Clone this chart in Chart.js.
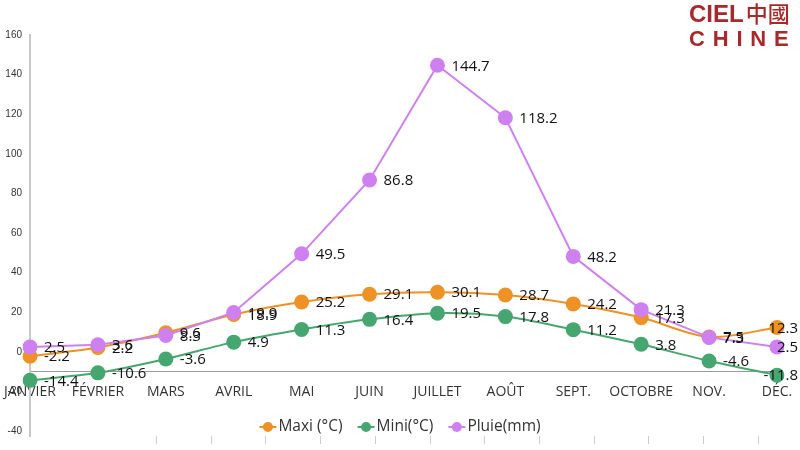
<!DOCTYPE html>
<html lang="fr">
<head>
<meta charset="utf-8">
<title>Climat - Ciel Chine</title>
<script src="https://cdn.jsdelivr.net/npm/chart.js@4.4.1/dist/chart.umd.min.js"></script>
<style>
  body { margin: 0; background: #fff; }
  #wrap { position: relative; width: 800px; height: 450px; }
  #logo { position: absolute; left: 689px; top: 1px; color: #a8282b; font-family: "Liberation Sans", Arial, sans-serif; font-weight: bold; line-height: 1; }
  #logo .l1 { font-size: 24px; white-space: nowrap; }
  #logo .l1 span { font-family: "Noto Sans CJK TC", sans-serif; font-size: 22px; font-weight: 500; margin-left: 2px; }
  #logo .l2 { font-size: 22px; letter-spacing: 7.8px; margin-top: 2px; }
</style>
</head>
<body>
<div id="wrap">
  <canvas id="climateChart" width="800" height="450"></canvas>
  <div id="logo"><div class="l1">CIEL<span>中國</span></div><div class="l2">CHINE</div></div>
</div>
<script>
// Data
const months = ['JANVIER', 'FÉVRIER', 'MARS', 'AVRIL', 'MAI', 'JUIN', 'JUILLET', 'AOÛT', 'SEPT.', 'OCTOBRE', 'NOV.', 'DÉC.'];
const maxiTemp = [-2.2, 2.2, 9.6, 18.9, 25.2, 29.1, 30.1, 28.7, 24.2, 17.3, 7.5, 12.3];
const miniTemp = [-14.4, -10.6, -3.6, 4.9, 11.3, 16.4, 19.5, 17.8, 11.2, 3.8, -4.6, -11.8];
const pluie = [2.5, 3.6, 8.3, 19.9, 49.5, 86.8, 144.7, 118.2, 48.2, 21.3, 7.3, 2.5];
const seriesNames = ['Maxi (°C)', 'Mini(°C)', 'Pluie(mm)'];

const colors = ['#EE9226', '#46A66F', '#CF80F0'];

// value labels to the right of each point
const valueLabels = {
    id: 'valueLabels',
    afterDatasetsDraw(chart) {
        const ctx = chart.ctx;
        ctx.save();
        ctx.font = '15px "Open Sans", sans-serif';
        ctx.fillStyle = '#111';
        ctx.textBaseline = 'middle';
        ctx.textAlign = 'left';
        chart.data.datasets.forEach((ds, i) => {
            const meta = chart.getDatasetMeta(i);
            meta.data.forEach((pt, j) => {
                const text = ds.data[j].toFixed(1);
                const w = ctx.measureText(text).width;
                const x = Math.min(pt.x + 14, chart.width - w - 2);
                ctx.fillText(text, x, pt.y + 1);
            });
        });
        ctx.restore();
    }
};

// legend drawn inside the plot, line + circle icon
const lineLegend = {
    id: 'lineLegend',
    afterDraw(chart) {
        const ctx = chart.ctx;
        const y = 427;
        ctx.save();
        ctx.font = '15.5px "Open Sans", sans-serif';
        ctx.textBaseline = 'middle';
        const items = chart.data.datasets.map(ds => ({
            label: ds.label,
            color: ds.borderColor,
            w: 19 + ctx.measureText(ds.label).width
        }));
        const gap = 15;
        const total = items.reduce((s, it) => s + it.w, 0) + gap * (items.length - 1);
        let x = (chart.width - total) / 2;
        items.forEach(it => {
            ctx.strokeStyle = it.color;
            ctx.lineWidth = 2;
            ctx.beginPath();
            ctx.moveTo(x, y);
            ctx.lineTo(x + 17, y);
            ctx.stroke();
            ctx.fillStyle = it.color;
            ctx.beginPath();
            ctx.arc(x + 8.5, y, 5, 0, Math.PI * 2);
            ctx.fill();
            ctx.fillStyle = '#333';
            ctx.fillText(it.label, x + 19, y);
            x += it.w + gap;
        });
        ctx.restore();
    }
};

function makeSet(label, data, color, tension, order) {
    return {
        label: label,
        data: data,
        borderColor: color,
        backgroundColor: color,
        pointBackgroundColor: color,
        pointBorderColor: color,
        borderWidth: 2,
        pointRadius: 7.5,
        pointBorderWidth: 0,
        tension: tension,
        order: order
    };
}

const ctx = document.getElementById('climateChart');
new Chart(ctx, {
    type: 'line',
    data: {
        labels: months,
        datasets: [
            makeSet(seriesNames[0], maxiTemp, colors[0], 0.3, 1),
            makeSet(seriesNames[1], miniTemp, colors[1], 0.3, 2),
            makeSet(seriesNames[2], pluie, colors[2], 0, 0)
        ]
    },
    options: {
        responsive: false,
        animation: false,
        layout: { padding: { top: 35, right: 23, bottom: 0, left: 0 } },
        plugins: {
            legend: { display: false },
            tooltip: { enabled: false }
        },
        scales: {
            x: {
                type: 'category',
                position: { y: -10 },
                grid: { display: false, drawTicks: false },
                border: { color: '#9a9a9a', width: 1 },
                ticks: {
                    font: { family: '"Open Sans", sans-serif', size: 14 },
                    color: '#333',
                    padding: 12,
                    maxRotation: 0,
                    autoSkip: false
                },
                afterFit: scale => { scale.paddingLeft = 0; scale.paddingRight = 0; }
            },
            x2: {
                type: 'linear',
                position: 'bottom',
                min: -2.31,
                max: 11.34,
                ticks: { display: false, stepSize: 1, includeBounds: false },
                grid: {
                    drawOnChartArea: false,
                    tickLength: 8,
                    tickColor: c => (c.tick && c.tick.value >= 0) ? '#cfcfcf' : 'rgba(0,0,0,0)'
                },
                border: { display: false },
                afterFit: scale => { scale.height = 8; }
            },
            y: {
                position: 'left',
                min: -42.5,
                max: 160,
                grid: { display: false, drawTicks: false },
                border: { color: '#c8c8c8', width: 2 },
                ticks: {
                    stepSize: 20,
                    includeBounds: false,
                    font: { family: '"Liberation Sans", Arial, sans-serif', size: 10 },
                    color: '#333',
                    padding: 8
                },
                afterFit: scale => { scale.width = 30; }
            }
        }
    },
    plugins: [valueLabels, lineLegend]
});
</script>
</body>
</html>
